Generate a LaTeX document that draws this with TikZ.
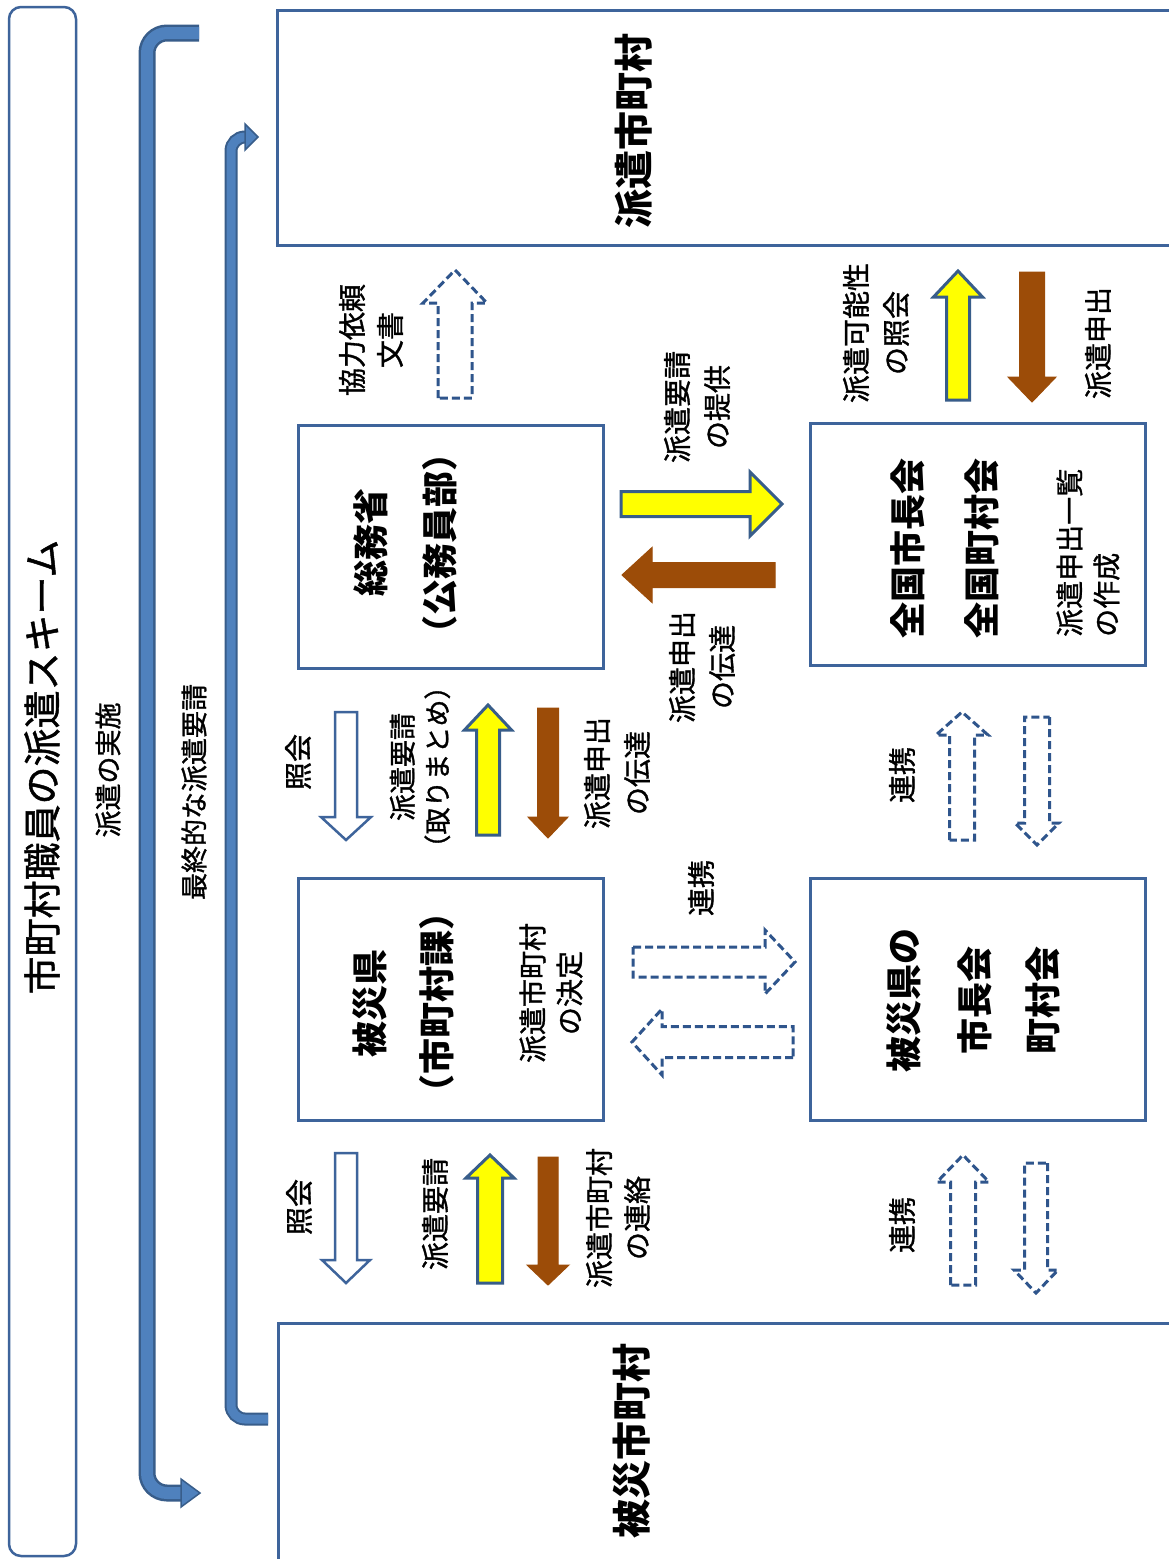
\documentclass[tikz,border=0pt]{standalone}
\usepackage{fontspec}
\newfontfamily\jp[FakeBold=1.2]{Noto Sans CJK JP}
\newfontfamily\jpbold{Noto Sans CJK JP}
\definecolor{boxblue}{RGB}{62,100,155}
\definecolor{bandfill}{RGB}{79,129,189}
\definecolor{bandline}{RGB}{56,93,138}
\definecolor{arryellow}{RGB}{255,255,0}
\definecolor{arrbrown}{RGB}{156,76,8}
\definecolor{dashblue}{RGB}{47,85,140}
% style, tail x, tail y, angle, length, shaft half width, head half width, head length
\newcommand{\blockarrow}[8]{%
  \draw[#1, shift={(#2,#3)}, rotate=#4] (0,-#6) -- ({#5-#8},-#6) -- ({#5-#8},-#7) -- (#5,0) -- ({#5-#8},#7) -- ({#5-#8},#6) -- (0,#6) -- cycle;}
\begin{document}
\begin{tikzpicture}[x=1pt,y=-1pt,
  frame/.style={draw=boxblue, line width=2.5pt, rounded corners=12pt, minimum width=67pt, minimum height=1549pt, inner sep=0pt},
  box/.style={draw=boxblue, line width=3pt, inner sep=0pt},
  lab/.style={rotate=90, inner sep=0pt, align=center, font=\jp\fontsize{28pt}{40pt}\selectfont},
  blab/.style={rotate=90, inner sep=0pt, font=\jpbold\bfseries\fontsize{36pt}{44pt}\selectfont},
  biglab/.style={rotate=90, inner sep=0pt, font=\jpbold\bfseries\fontsize{39pt}{44pt}\selectfont},
  titlelab/.style={rotate=90, inner sep=0pt, font=\jp\fontsize{38pt}{44pt}\selectfont},
  brlab/.style={rotate=90, inner sep=0pt, font=\jp\fontsize{27pt}{40pt}\selectfont},
  bandout/.style={draw=bandline, line width=#1, line cap=butt},
  bandin/.style={draw=bandfill, line width=#1, line cap=butt},
  headstyle/.style={fill=bandfill, draw=bandline, line width=1.5pt, line join=miter},
  hollow/.style={draw=boxblue, fill=white, line width=2.5pt},
  dasharr/.style={draw=dashblue, fill=white, line width=3pt, dash pattern=on 8pt off 4pt},
  yarr/.style={draw=bandline, fill=arryellow, line width=3pt},
  barr/.style={draw=arrbrown, fill=arrbrown, line width=1pt}
]
\useasboundingbox (0,0) rectangle (1168,1559);
\fill[white] (0,0) rectangle (1168,1559);

% left frame and title
\node[frame] (frame) at (42.5,781.5) {};
\node[titlelab] (title) at (42,767) {市町村職員の派遣スキーム};

% outer bracket: 派遣の実施
\draw[bandout=17pt, rounded corners=20pt] (199,33) -- (147,33) -- (147,1493) -- (184,1493);
\draw[bandin=12pt, rounded corners=20pt] (199,33) -- (147,33) -- (147,1493) -- (184,1493);
\draw[headstyle] (181,1479) -- (200,1493) -- (181,1507) -- cycle;
\node[brlab] (jisshi) at (108,770) {派遣の実施};

% inner bracket: 最終的な派遣要請
\draw[bandout=13pt, rounded corners=14pt] (268,1419) -- (231,1419) -- (231,137) -- (247,137);
\draw[bandin=9pt, rounded corners=14pt] (268,1419) -- (231,1419) -- (231,137) -- (247,137);
\draw[headstyle] (245,124) -- (258,137) -- (245,150) -- cycle;
\node[brlab] (saishu) at (194,792) {最終的な派遣要請};

% boxes
\node[box, minimum width=910pt, minimum height=235pt] (haken) at (732,127.5) {};
\node[box, minimum width=910pt, minimum height=250pt] (hisai) at (733,1448) {};
\node[box, minimum width=305pt, minimum height=243pt] (soumu) at (450.5,546.5) {};
\node[box, minimum width=335pt, minimum height=242pt] (zenkoku) at (977.5,544) {};
\node[box, minimum width=305pt, minimum height=242pt] (ken) at (450.5,999) {};
\node[box, minimum width=335pt, minimum height=242pt] (kenkai) at (977.5,999) {};

% box texts
\node[biglab] (t-haken) at (634,131) {派遣市町村};
\node[biglab] (t-hisai) at (632,1441) {被災市町村};
\node[blab] (t-soumu1) at (371,542) {総務省};
\node[blab] (t-soumu2) at (440,543) {（公務員部）};
\node[blab] (t-zen1) at (908,548) {全国市長会};
\node[blab] (t-zen2) at (982,548) {全国町村会};
\node[lab, align=left, anchor=west, font=\jp\fontsize{28pt}{37pt}\selectfont] (t-zen3) at (1088,637) {派遣申出一覧\\の作成};
\node[blab] (t-ken1) at (370,1003) {被災県};
\node[blab] (t-ken2) at (437,1002) {（市町村課）};
\node[lab, font=\jp\fontsize{28pt}{37pt}\selectfont] (t-ken3) at (551,993) {派遣市町村\\の決定};
\node[blab] (t-kai1) at (904,1000) {被災県の};
\node[blab] (t-kai2) at (975,1000) {市長会};
\node[blab] (t-kai3) at (1043,1000) {町村会};

% arrows: top area
\blockarrow{dasharr}{455}{398}{90}{128}{17}{32}{33}
\node[lab, font=\jp\fontsize{28pt}{38pt}\selectfont] (l-kyoryoku) at (371,340) {協力依頼\\文書};
\blockarrow{yarr}{958}{400}{90}{129}{11.5}{24.5}{26}
\blockarrow{barr}{1032}{272}{-90}{130}{12.5}{24}{25}
\node[lab] (l-kanou) at (876,333) {派遣可能性\\の照会};
\node[lab] (l-moushide) at (1098,343) {派遣申出};

% between 総務省 and 全国
\blockarrow{yarr}{621}{504}{0}{161}{12.5}{32}{32}
\blockarrow{barr}{775}{575}{180}{153}{12.5}{27.5}{30}
\node[lab] (l-teikyo) at (697,407) {派遣要請\\の提供};
\node[lab] (l-dentatsu1) at (702,667) {派遣申出\\の伝達};

% between 総務省 and 被災県
\blockarrow{hollow}{346}{712}{-90}{128}{11}{25}{23}
\blockarrow{yarr}{488}{835}{90}{130}{11.5}{23.5}{25}
\blockarrow{barr}{548}{708}{-90}{130}{10.5}{20}{21}
\node[lab] (l-shokai1) at (298,762) {照会};
\node[lab, font=\jp\fontsize{27pt}{35pt}\selectfont] (l-torimatome) at (420,767) {派遣要請\\（取りまとめ）};
\node[lab] (l-dentatsu2) at (617,773) {派遣申出\\の伝達};

% 全国 and 被災県の市長会
\blockarrow{dasharr}{962}{840}{90}{128}{12.5}{26}{23}
\blockarrow{dasharr}{1037}{717}{-90}{128}{12.5}{22}{22}
\node[lab] (l-renkei1) at (902,775) {連携};

% 被災県 and 被災県の市長会
\blockarrow{dasharr}{633}{962}{0}{162}{15}{32}{30}
\blockarrow{dasharr}{793}{1042}{180}{161}{15.5}{33}{30}
\node[lab] (l-renkei2) at (701,888) {連携};

% bottom area
\blockarrow{hollow}{346}{1153}{-90}{130}{11}{24}{23}
\blockarrow{yarr}{490}{1283}{90}{128}{12.5}{24}{23}
\blockarrow{barr}{548}{1157}{-90}{128}{10}{21}{20}
\node[lab] (l-shokai2) at (299,1207) {照会};
\node[lab] (l-yousei) at (435,1214) {派遣要請};
\node[lab, font=\jp\fontsize{28pt}{38pt}\selectfont] (l-renraku) at (618,1218) {派遣市町村\\の連絡};
\blockarrow{dasharr}{963}{1285}{90}{130}{12.5}{26}{27}
\blockarrow{dasharr}{1036}{1163}{-90}{130}{11.5}{22}{23}
\node[lab] (l-renkei3) at (902,1225) {連携};
\end{tikzpicture}
\end{document}
